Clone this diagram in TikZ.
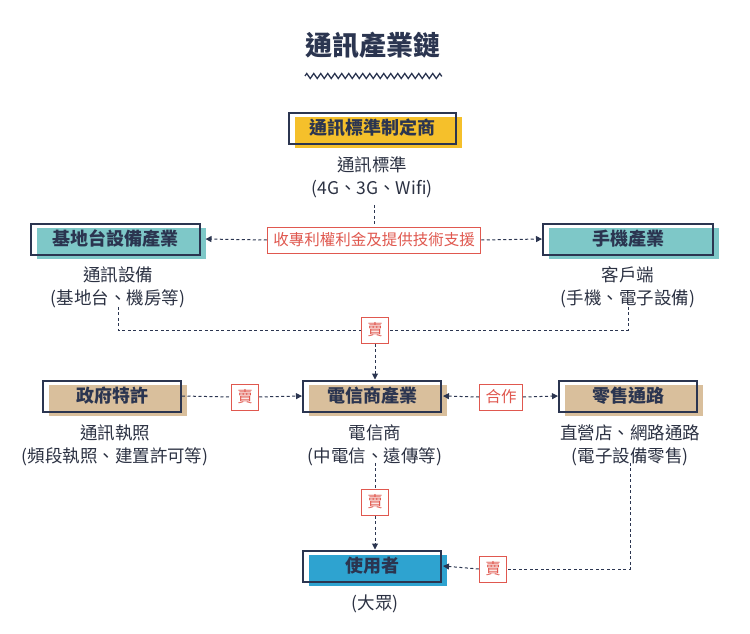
\documentclass[tikz,border=0pt]{standalone}
\usepackage{fontspec}
\setmainfont{Noto Sans CJK TC}[BoldFont={Noto Sans CJK TC Black}]
\usetikzlibrary{arrows.meta,decorations.pathmorphing}
\definecolor{navy}{HTML}{2B3550}
\definecolor{cyel}{HTML}{F5C02B}
\definecolor{cteal}{HTML}{7EC8C8}
\definecolor{ctan}{HTML}{D9BF9C}
\definecolor{cblue}{HTML}{2EA3D0}
\definecolor{cred}{HTML}{E0584F}
\definecolor{ctext}{HTML}{2B3142}
\tikzset{
 lbl/.style={font=\fontsize{18}{20}\selectfont\bfseries,text=navy,minimum height=31pt,inner sep=0pt},
 tag/.style={draw=cred,fill=white,text=cred,font=\fontsize{15.5}{17}\selectfont,minimum height=26pt,inner xsep=6pt,inner ysep=0pt,line width=1pt},
 txt/.style={font=\fontsize{17.5}{23}\selectfont,text=ctext,align=center,inner sep=1pt},
 con/.style={navy,dashed,dash pattern=on 3pt off 2.5pt,line width=1pt},
 arr/.style={con,-{Triangle[length=6pt,width=6pt]}},
}
\begin{document}
\begin{tikzpicture}[x=1pt,y=-1pt]
\useasboundingbox (0,0) rectangle (750,634);
\node[font=\fontsize{27}{30}\selectfont\bfseries,text=navy] (title) at (373,45) {通訊產業鏈};
\draw[navy,line width=1.3pt,decorate,decoration={zigzag,segment length=7pt,amplitude=2.5pt}] (305,76) -- (442,76);
\foreach \n/\x/\y/\w/\c/\t in {std/372/128/167/cyel/通訊標準制定商, bs/115/239/169/cteal/基地台設備產業, ph/628/239/170/cteal/手機產業, gov/112/396/138/ctan/政府特許, tel/372/396/138/ctan/電信商產業, ret/628/396/138/ctan/零售通路, usr/372/566/138/cblue/使用者}{
 \fill[\c] (\x-\w/2+6,\y-11) rectangle (\x+\w/2+6,\y+20);
 \node[lbl,minimum width=\w pt,draw=navy,line width=2pt] (\n) at (\x,\y) {\t};
}
\node[txt] (stdt) at (372,177) {通訊標準\\(4G、3G、Wifi)};
\node[txt] (bst) at (118,287) {通訊設備\\(基地台、機房等)};
\node[txt] (pht) at (628,287) {客戶端\\(手機、電子設備)};
\node[txt] (govt) at (115,445) {通訊執照\\(頻段執照、建置許可等)};
\node[txt] (telt) at (375,445) {電信商\\(中電信、遠傳等)};
\node[txt] (rett) at (630,445) {直營店、網路通路\\(電子設備零售)};
\node[txt] (usrt) at (375,604) {(大眾)};
\node[tag] (roy) at (374,240) {收專利權利金及提供技術支援};
\node[tag] (s1) at (375,330) {賣};
\node[tag] (s2) at (245,397) {賣};
\node[tag] (coop) at (501,397) {合作};
\node[tag] (s3) at (375,502) {賣};
\node[tag] (s4) at (493,569) {賣};
\draw[con] (stdt.south -| roy.north) ++(0,6) coordinate (a0) -- (roy.north);
\draw[arr] (roy.west) -- ([xshift=5pt]bs.east);
\draw[arr] (roy.east) -- (ph.west);
\coordinate (bsd) at ([yshift=2pt]bst.south);
\coordinate (phd) at ([yshift=2pt]pht.south);
\draw[con] (bsd) |- (s1.west);
\draw[con] (phd) |- (s1.east);
\draw[arr] (s1.south) -- (s1.south |- tel.north);
\draw[con] (gov.east) -- (s2.west);
\draw[arr] (s2.east) -- (tel.west);
\draw[arr] (coop.west) -- ([xshift=1pt]tel.east);
\draw[arr] (coop.east) -- (ret.west);
\coordinate (teld) at ([yshift=4pt]telt.south -| s3.north);
\draw[con] (teld) -- (s3.north);
\draw[arr] (s3.south) -- (s3.south |- usr.north);
\coordinate (retd) at ([yshift=4pt]rett.south);
\draw[con] (retd) |- (s4.east);
\draw[arr] (s4.west) -- ([xshift=1pt]usr.east);
\end{tikzpicture}
\end{document}
